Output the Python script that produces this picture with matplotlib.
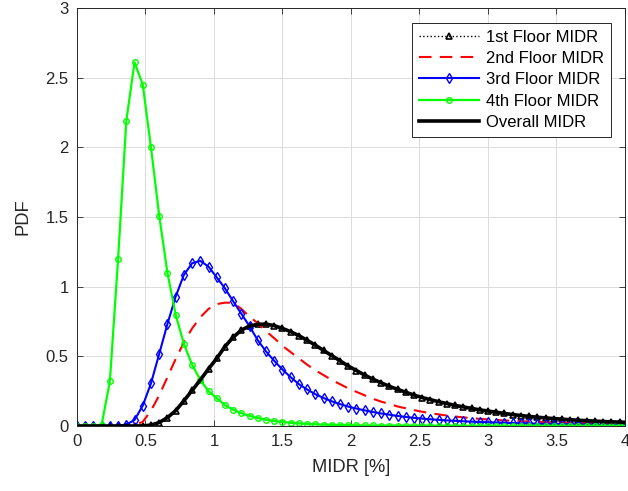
import matplotlib
matplotlib.use('Agg')
import matplotlib.pyplot as plt
import numpy as np

plt.rcParams['font.family'] = ['Liberation Sans', 'DejaVu Sans']

# MIDR grid [%], step 0.06
midr = np.round(np.arange(68) * 0.06, 2)

# PDF values
floor1 = [0, 0, 0, 0, 0, 0, 0, 0, 0.001, 0.006, 0.025, 0.06,
          0.11, 0.18, 0.255, 0.33, 0.41, 0.485, 0.57, 0.637, 0.688, 0.718, 0.73, 0.731,
          0.72, 0.70, 0.677, 0.648, 0.615, 0.58, 0.542, 0.505, 0.468, 0.43, 0.398, 0.365,
          0.336, 0.31, 0.285, 0.263, 0.242, 0.222, 0.204, 0.189, 0.174, 0.161, 0.148, 0.137,
          0.126, 0.116, 0.107, 0.099, 0.090, 0.082, 0.075, 0.069, 0.063, 0.058, 0.053, 0.049,
          0.045, 0.041, 0.038, 0.035, 0.032, 0.030, 0.028, 0.026]
floor2 = [0, 0, 0, 0, 0, 0, 0.001, 0.006, 0.03, 0.11, 0.22, 0.35,
          0.48, 0.60, 0.70, 0.78, 0.84, 0.875, 0.885, 0.885, 0.84, 0.785, 0.737, 0.68,
          0.63, 0.575, 0.53, 0.485, 0.44, 0.40, 0.365, 0.33, 0.30, 0.27, 0.245, 0.22,
          0.195, 0.175, 0.158, 0.14, 0.127, 0.114, 0.102, 0.092, 0.083, 0.075, 0.068, 0.062,
          0.056, 0.051, 0.047, 0.043, 0.040, 0.037, 0.034, 0.032, 0.030, 0.028, 0.026, 0.024,
          0.023, 0.021, 0.020, 0.019, 0.018, 0.017, 0.016, 0.015]
floor3 = [0, 0, 0, 0, 0, 0.002, 0.010, 0.043, 0.146, 0.306, 0.517, 0.732,
          0.928, 1.084, 1.168, 1.185, 1.144, 1.067, 0.988, 0.895, 0.805, 0.715, 0.615, 0.535,
          0.467, 0.405, 0.350, 0.300, 0.262, 0.228, 0.201, 0.177, 0.157, 0.139, 0.125, 0.112,
          0.100, 0.090, 0.081, 0.072, 0.065, 0.058, 0.053, 0.048, 0.044, 0.040, 0.037, 0.034,
          0.031, 0.029, 0.027, 0.025, 0.023, 0.021, 0.019, 0.018, 0.016, 0.015, 0.014, 0.013,
          0.012, 0.011, 0.010, 0.009, 0.009, 0.008, 0.007, 0.007]
floor4 = [0, 0, 0, 0.01, 0.32, 1.20, 2.19, 2.61, 2.45, 2.00, 1.51, 1.10,
          0.80, 0.59, 0.44, 0.33, 0.25, 0.20, 0.15, 0.117, 0.092, 0.072, 0.057, 0.045,
          0.036, 0.029, 0.023, 0.019, 0.015, 0.012, 0.010, 0.008, 0.007, 0.006, 0.005, 0.004,
          0.004, 0.003, 0.003, 0.003, 0.002, 0.002, 0.002, 0.002, 0.001, 0.001, 0.001, 0.001,
          0.001, 0.001, 0.001, 0.001, 0.001, 0.001, 0.001, 0.001, 0.001, 0.001, 0.001, 0.001,
          0.001, 0.001, 0.001, 0.001, 0.001, 0.001, 0.001, 0.001]
overall = list(floor1)  # overall MIDR follows the 1st floor

labels = ['1st Floor MIDR', '2nd Floor MIDR', '3rd Floor MIDR', '4th Floor MIDR', 'Overall MIDR']
xticks = [0, 0.5, 1, 1.5, 2, 2.5, 3, 3.5, 4]
yticks = [0, 0.5, 1, 1.5, 2, 2.5, 3]

fig = plt.figure(figsize=(6.28, 4.91), dpi=100)
ax = fig.add_axes([0.1226, 0.1324, 0.8726, 0.8513])

ax.plot(midr, floor1, color='k', ls=':', lw=1.0, marker='^', ms=4.5,
        mfc='none', mec='k', mew=1.2, label=labels[0])
ax.plot(midr, floor2, color='r', ls=(0, (6, 4)), lw=1.5, label=labels[1])
ax.plot(midr, floor3, color='b', ls='-', lw=1.5, marker='d', ms=4.8,
        mfc='none', mec='b', mew=1.0, label=labels[2])
ax.plot(midr, floor4, color='#00ff00', ls='-', lw=1.6, marker='o', ms=4.0,
        mfc='none', mec='#00ff00', mew=1.0, label=labels[3])
ax.plot(midr, overall, color='k', ls='-', lw=2.6, label=labels[4])

ax.set_xlim(0, 4)
ax.set_ylim(0, 3)
ax.set_xticks(xticks)
ax.set_xticklabels(['%g' % t for t in xticks])
ax.set_yticks(yticks)
ax.set_yticklabels(['%g' % t for t in yticks])
ax.grid(True, color='#dcdcdc', lw=0.7)
ax.set_axisbelow(True)
ax.tick_params(direction='in', length=4, width=0.6, top=True, right=True,
               labelsize=12, colors='#262626', pad=6)
for s in ax.spines.values():
    s.set_color('#262626')
    s.set_linewidth(0.7)

ax.set_xlabel('MIDR [%]', fontsize=13.2, color='#262626', labelpad=7)
ax.set_ylabel('PDF', fontsize=13.2, color='#262626', labelpad=10)

leg = ax.legend(loc='upper right', bbox_to_anchor=(0.9745, 0.965), borderaxespad=0,
                fontsize=12, fancybox=False, framealpha=1, edgecolor='#262626',
                numpoints=1, handlelength=3.6, handletextpad=0.4,
                labelspacing=0.38, borderpad=0.42)
leg.get_frame().set_linewidth(0.7)

fig.savefig('out.png', dpi=100)
